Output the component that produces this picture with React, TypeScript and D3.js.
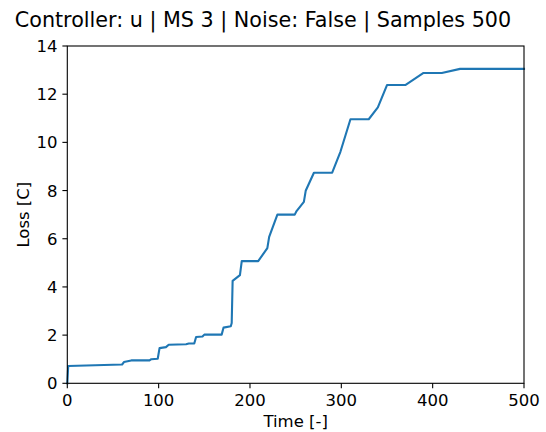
import React from "react";
import * as d3 from "d3";

const timeSteps = [0, 1, 60, 62, 70, 90, 92, 99, 101, 108, 111, 130, 133, 139, 141, 148, 150, 169, 171, 179, 180, 181, 189, 191, 209, 219, 221, 230, 249, 251, 259, 261, 270, 290, 299, 310, 330, 340, 350, 370, 390, 410, 430, 500];
const lossValues = [0, 0.72, 0.78, 0.88, 0.95, 0.95, 1.0, 1.02, 1.46, 1.5, 1.6, 1.62, 1.65, 1.65, 1.92, 1.94, 2.02, 2.02, 2.31, 2.37, 2.5, 4.25, 4.49, 5.07, 5.07, 5.61, 6.08, 7.0, 7.0, 7.15, 7.53, 7.99, 8.74, 8.74, 9.61, 10.96, 10.96, 11.45, 12.38, 12.38, 12.88, 12.88, 13.05, 13.05];
const xTicks = [0, 100, 200, 300, 400, 500];
const yTicks = [0, 2, 4, 6, 8, 10, 12, 14];
const title = "Controller: u | MS 3 | Noise: False | Samples 500";
const xLabel = "Time [-]";
const yLabel = "Loss [C]";

export default function App() {
  const W = 546, H = 432;
  const left = 67.3, right = 524, top = 46, bottom = 383.3;
  const x = d3.scaleLinear().domain([0, 500]).range([left, right]);
  const y = d3.scaleLinear().domain([0, 14]).range([bottom, top]);
  const pts: [number, number][] = timeSteps.map((t, i) => [t, lossValues[i]]);
  const line = d3.line<[number, number]>().x(d => x(d[0])).y(d => y(d[1]));
  const font = "'DejaVu Sans', sans-serif";
  const fs = 16.5;
  return (
    <svg width={W} height={H} style={{ position: "absolute", left: 0, top: 0, background: "#fff" }} fontFamily={font}>
      <rect x={0} y={0} width={W} height={H} fill="#fff" />
      <text x={263} y={27} textAnchor="middle" fontSize={20.7} fill="#000">{title}</text>
      <path d={line(pts) || ""} fill="none" stroke="#1f77b4" strokeWidth={2.1} strokeLinejoin="round" strokeLinecap="square" />
      <rect x={left} y={top} width={right - left} height={bottom - top} fill="none" stroke="#000" strokeWidth={1.1} />
      {xTicks.map(t => (
        <g key={"x" + t}>
          <line x1={x(t)} x2={x(t)} y1={bottom} y2={bottom + 4.9} stroke="#000" strokeWidth={1.1} />
          <text x={x(t)} y={405.5} textAnchor="middle" fontSize={fs} fill="#000">{t}</text>
        </g>
      ))}
      {yTicks.map(t => (
        <g key={"y" + t}>
          <line x1={left - 4.9} x2={left} y1={y(t)} y2={y(t)} stroke="#000" strokeWidth={1.1} />
          <text x={57.5} y={y(t) + 6} textAnchor="end" fontSize={fs} fill="#000">{t}</text>
        </g>
      ))}
      <text x={(left + right) / 2} y={426.5} textAnchor="middle" fontSize={fs} fill="#000">{xLabel}</text>
      <text transform={`translate(28.5, ${(top + bottom) / 2}) rotate(-90)`} textAnchor="middle" fontSize={fs} fill="#000">{yLabel}</text>
    </svg>
  );
}
